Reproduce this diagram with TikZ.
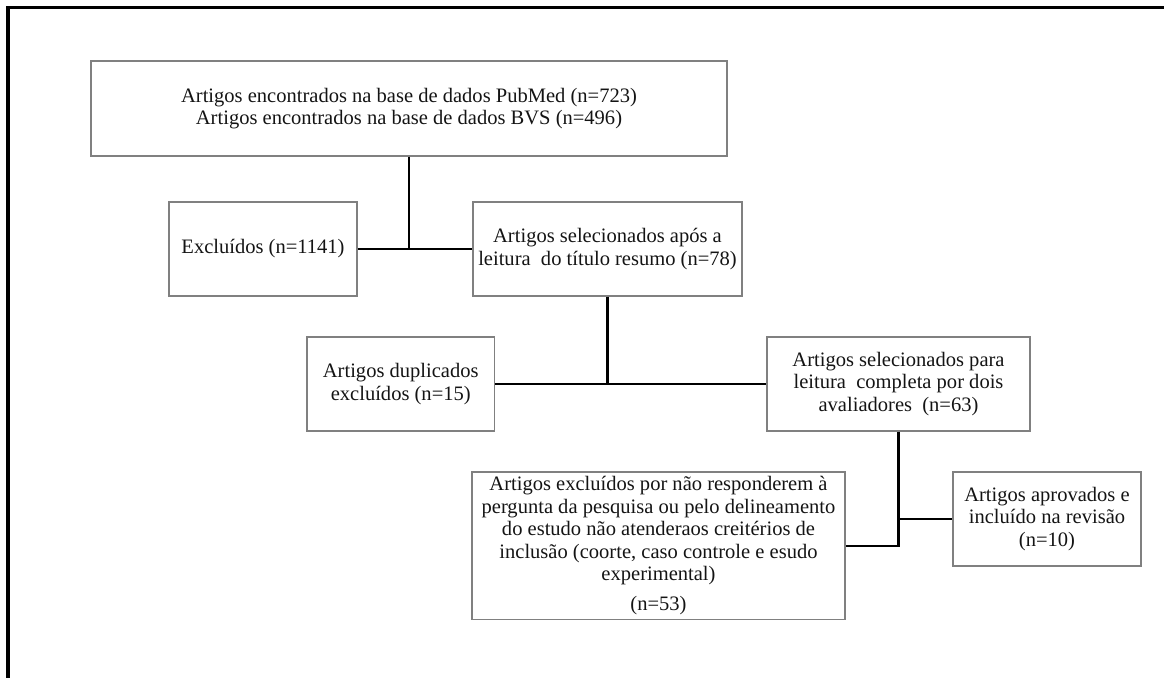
\documentclass[tikz,border=0pt]{standalone}
\usepackage{fontspec}
\setmainfont{Liberation Serif}
\begin{document}
\begin{tikzpicture}[x=0.75pt,y=-0.75pt,
  box/.style={draw=black!50, line width=0.8pt, inner sep=0pt, align=center,
    text=black!92, font=\fontsize{15.4pt}{16.8pt}\selectfont},
  conn/.style={draw=black, line width=1.7pt},
  frame/.style={draw=black, line width=2.5pt, line join=miter}]
\useasboundingbox (0,0) rectangle (1164,678);
\draw[frame] (8,678) -- (8,7.5) -- (1164,7.5);

\node[box, minimum width=477pt, minimum height=71.25pt] (src) at (409,108.5)
  {Artigos encontrados na base de dados PubMed (n=723)\\Artigos encontrados na base de dados BVS (n=496)};
\node[box, minimum width=141pt, minimum height=70.5pt] (exc) at (263,249)
  {Excluídos (n=1141)};
\node[box, minimum width=201.75pt, minimum height=70.5pt] (sel) at (607.5,249)
  {Artigos selecionados após a\\leitura\ \ do título resumo (n=78)};
\node[box, minimum width=140.6pt, minimum height=70.5pt] (dup) at (400.75,384)
  {Artigos duplicados\\excluídos (n=15)};
\node[box, minimum width=197.25pt, minimum height=70.5pt] (full) at (898.5,384)
  {Artigos selecionados para\\leitura\ \ completa por dois\\avaliadores\ \ (n=63)};
\node[box, minimum width=279.75pt, minimum height=110.6pt] (exc53) at (658.5,545.75)
  {Artigos excluídos por não responderem à\\pergunta da pesquisa ou pelo delineamento\\do estudo não atenderaos creitérios de\\inclusão (coorte, caso controle e esudo\\experimental)\\[5.7pt](n=53)};
\node[box, minimum width=141pt, minimum height=70.5pt] (inc) at (1047,519)
  {Artigos aprovados e\\incluído na revisão\\(n=10)};

\coordinate (j1) at (src.south |- exc.east);
\coordinate (j2) at (sel.south |- dup.east);
\coordinate (j3) at (full.south |- inc.west);
\draw[conn] (src.south) -- (j1);
\draw[conn] (exc.east) -- (sel.west);
\draw[conn] (sel.south) -- (j2);
\draw[conn] (dup.east) -- (full.west);
\draw[conn] (full.south) |- (exc53.east);
\draw[conn] (j3) -- (inc.west);
\end{tikzpicture}
\end{document}
